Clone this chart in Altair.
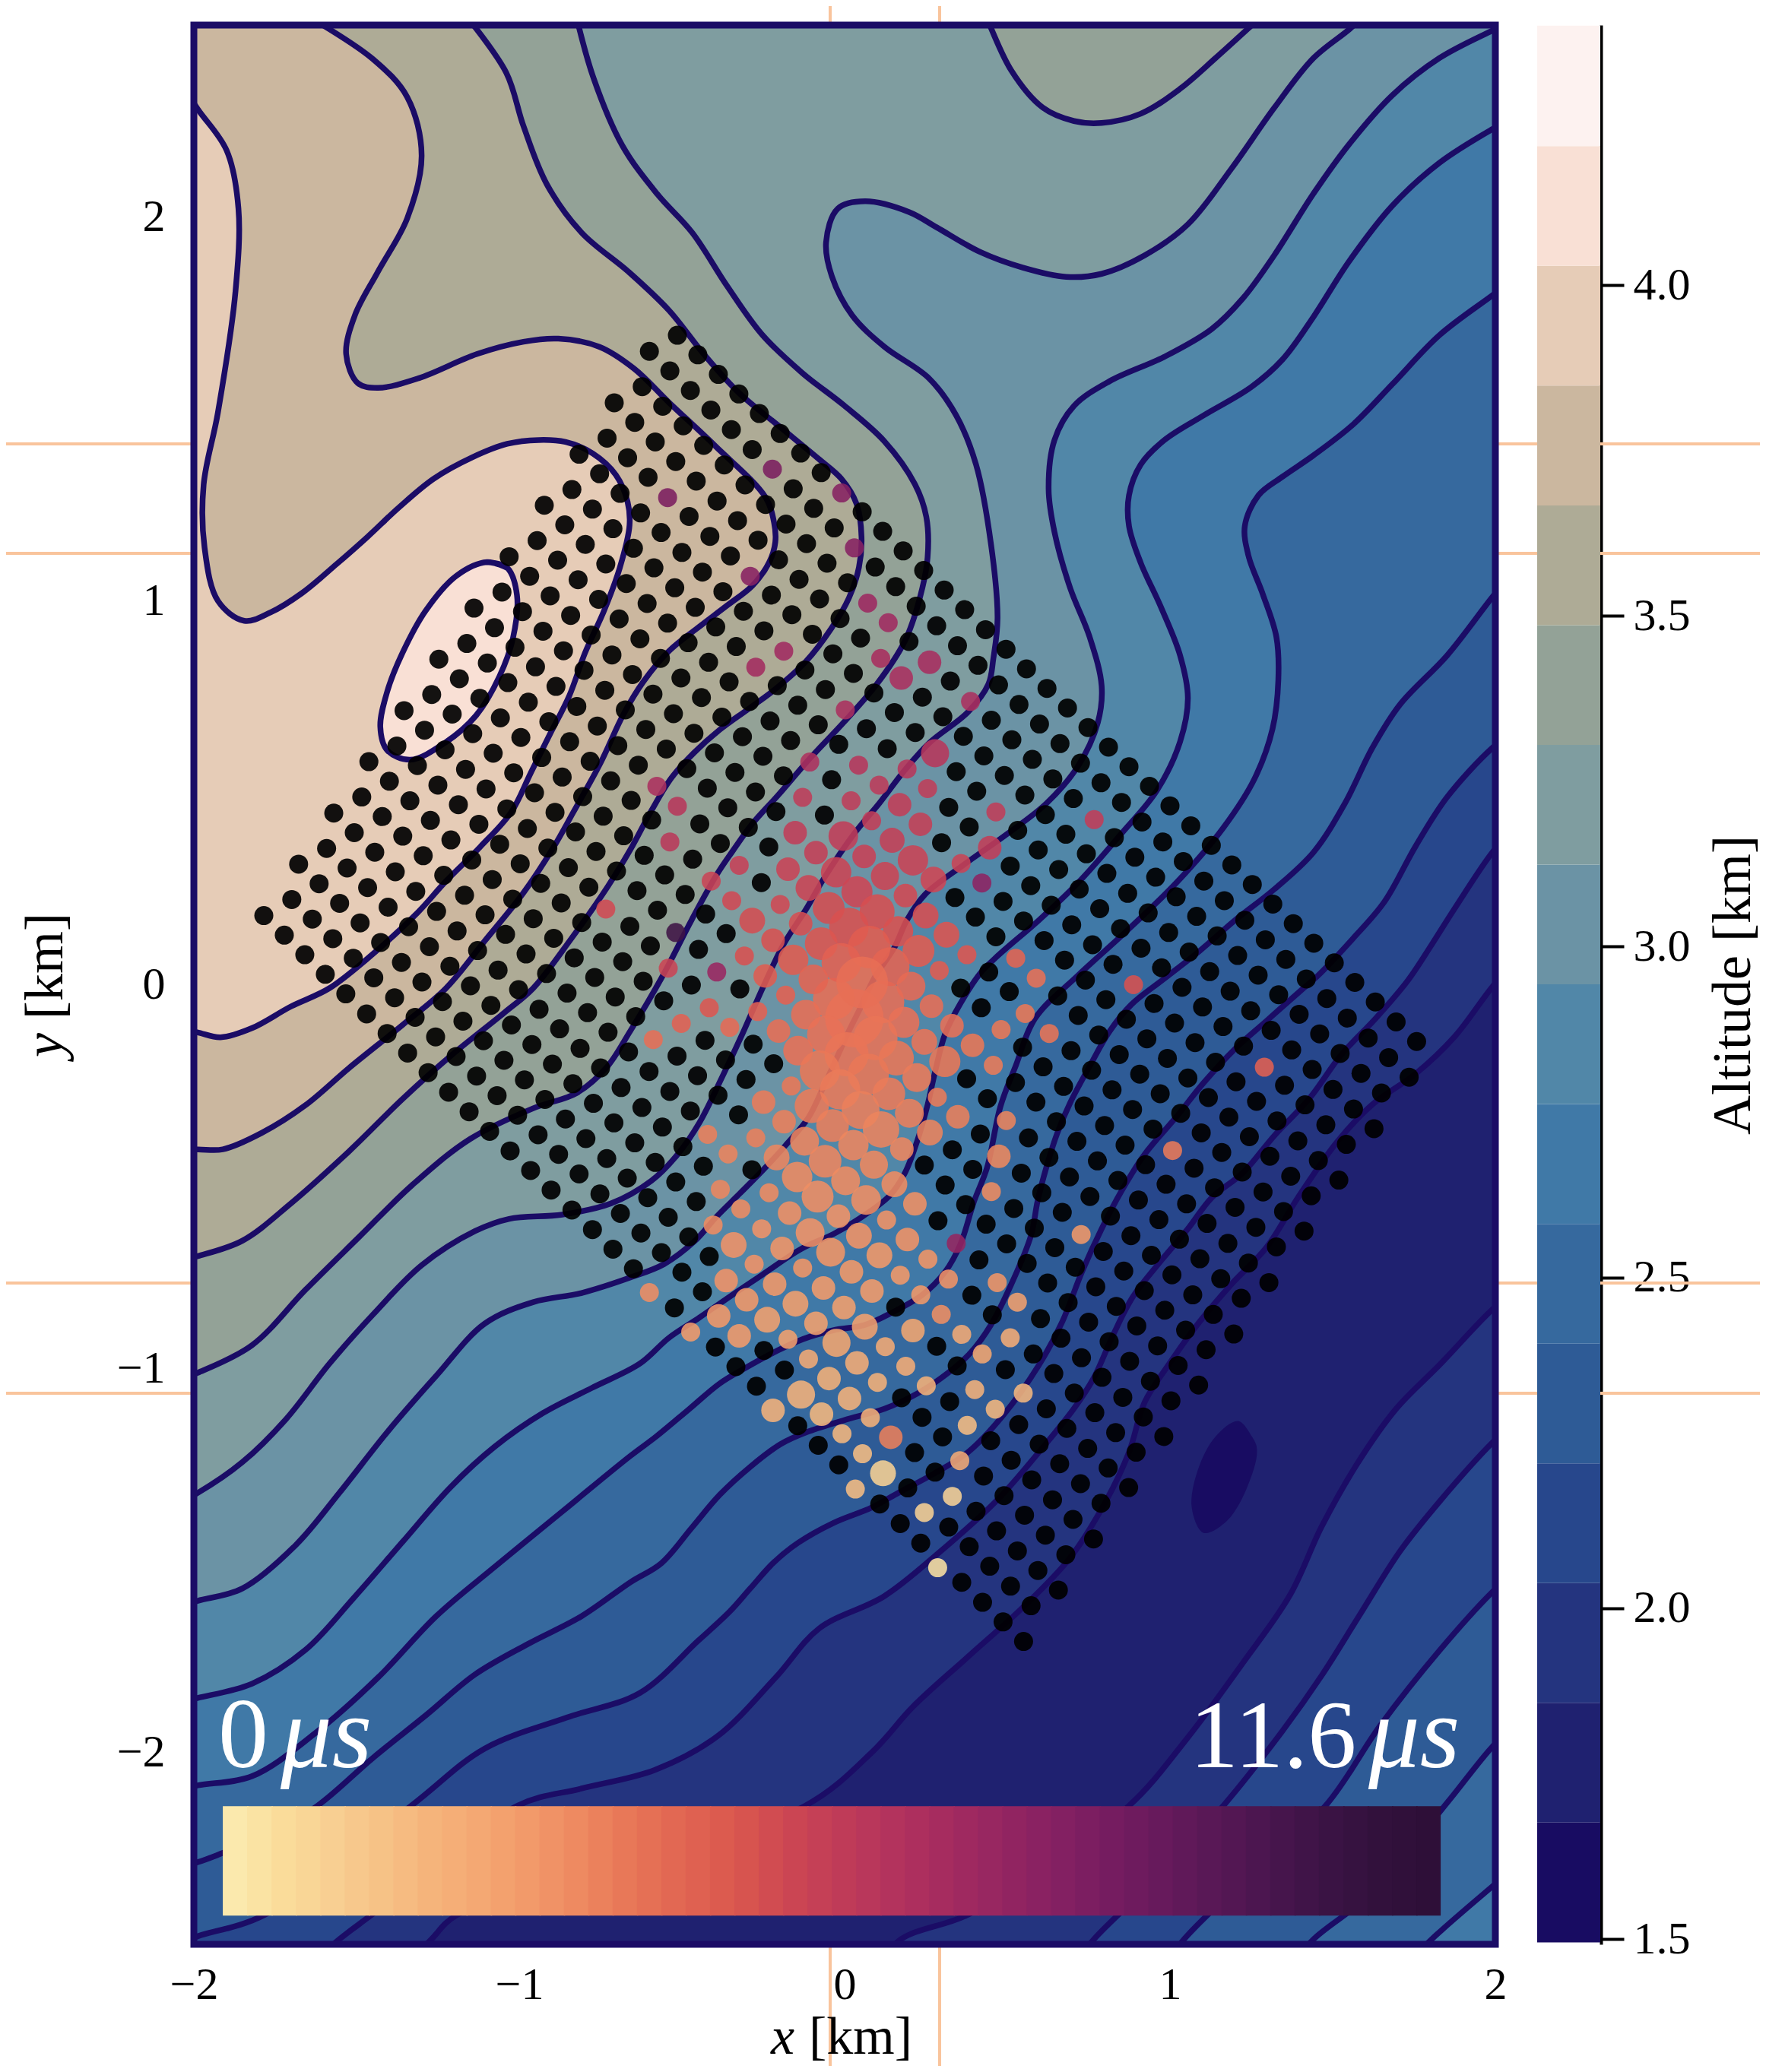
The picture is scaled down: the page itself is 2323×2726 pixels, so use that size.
import altair as alt
import pandas as pd

# ---------- colour bands (bottom to top) and altitude levels ----------
BAND_COLORS = ["#180c62", "#1f2170", "#24347f", "#27478c", "#2e5b96", "#36699e", "#4079a7", "#5187a8",
               "#6b93a5", "#7f9da0", "#93a297", "#aeab96", "#cbb79f", "#e6ccb7", "#f9e0d5", "#fdf2f0"]
LEVELS = [1.495, 1.676, 1.857, 2.038, 2.219, 2.400, 2.581, 2.762, 2.943, 3.124, 3.305, 3.486, 3.667, 3.848,
          4.029, 4.210, 4.392]
BAR_COLORS = ["#fbe9ad", "#fae3a3", "#fadc9a", "#f9d696", "#f8cf92", "#f7c88c", "#f6c286", "#f6bb81", "#f5b47b", "#f5ae77",
              "#f4a873", "#f3a16e", "#f29a6a", "#f09266", "#ee8a61", "#eb815c", "#e87858", "#e57055", "#e26853", "#df6151",
              "#dc5b4f", "#d7544f", "#d14c51", "#cb4553", "#c54056", "#bf3b58", "#b9375b", "#b3335d", "#ad2f5e", "#a62c5f",
              "#9f2960", "#982761", "#912461", "#8a2262", "#832062", "#7c1e61", "#751c60", "#6e1b5e", "#671a5c", "#601959",
              "#591856", "#531753", "#4c1650", "#46154c", "#401448", "#3a1344", "#361240", "#32113c", "#30103a", "#2e0f38"]
DOT_COLORS = ["#fbe9ad", "#fae3a5", "#fadd9e", "#f9d899", "#f8d295", "#f7cd91", "#f7c78c", "#f6c287", "#f6bd83", "#f5b87f",
              "#f5b37b", "#f5ae78", "#f4a974", "#f4a470", "#f39f6d", "#f29a6a", "#f19567", "#f09064", "#ee8a60", "#ec845d",
              "#ea7a58", "#e87256", "#e66a54", "#e36252", "#e05c50", "#dd5650", "#d95250", "#d44d51", "#cf4853", "#ca4355",
              "#c44057", "#be3c59", "#b8375b", "#b1335d", "#aa2f5e", "#a32b60", "#9c2861", "#952661", "#8d2362", "#852162",
              "#7c1e60", "#741c5e", "#6b1a5c", "#621959", "#591755", "#501651", "#47154b", "#3e1345", "#36113f", "#2e0f38"]
T_MAX = 11.6

# ---------- contour lines, km ----------
C2 = [(-1.35,-2.56),(-1.27,-2.487),(-1.194,-2.425),(-0.7,-2.3),(-0.121,-2.139),(0.086,-1.998),(0.210,-1.881),(0.379,-1.751),
      (0.548,-1.622),(0.693,-1.493),(0.802,-1.347),(0.874,-1.218),(0.922,-1.088),(0.995,-0.991),(1.091,-0.878),(1.188,-0.781),
      (1.297,-0.684),(1.393,-0.555),(1.514,-0.409),(1.622,-0.312),(1.755,-0.232),(1.876,-0.134),(1.991,-0.005),(2.06,0.06)][::-1]
C3 = [(2.06,0.41),(1.991,0.345),(1.876,0.200),(1.804,0.104),(1.731,0.011),(1.634,-0.086),(1.526,-0.183),(1.429,-0.296),(1.321,-0.393),
      (1.224,-0.490),(1.128,-0.555),(1.055,-0.636),(0.959,-0.733),(0.886,-0.813),(0.826,-0.911),(0.766,-1.024),(0.705,-1.104),
      (0.597,-1.218),(0.464,-1.347),(0.295,-1.476),(0.122,-1.593),(-0.078,-1.677),(-0.212,-1.805),(-0.391,-1.958),(-0.584,-2.046),
      (-0.808,-2.094),(-1.005,-2.139),(-1.453,-2.423),(-1.553,-2.487),(-1.65,-2.56)]
C4 = [(2.06,0.66),(1.991,0.617),(1.852,0.489),(1.755,0.361),(1.659,0.216),(1.562,0.12),(1.454,0.023),(1.405,-0.013),(1.297,-0.094),
      (1.200,-0.167),(1.103,-0.256),(1.019,-0.345),(0.922,-0.442),(0.850,-0.539),(0.790,-0.636),(0.729,-0.749),(0.669,-0.878),
      (0.597,-0.991),(0.488,-1.121),(0.379,-1.218),(0.270,-1.276),(0.169,-1.322),(0.083,-1.362),(-0.034,-1.402),(-0.143,-1.454),
      (-0.220,-1.507),(-0.290,-1.573),(-0.353,-1.633),(-0.450,-1.709),(-0.629,-1.845),(-0.853,-1.909),(-1.106,-1.990),(-1.332,-2.139),
      (-1.782,-2.423),(-1.988,-2.479),(-2.05,-2.50)]
C5 = [(2.06,1.08),(1.991,1.010),(1.852,0.858),(1.707,0.730),(1.622,0.617),(1.538,0.473),(1.441,0.345),(1.321,0.249),(1.200,0.168),
      (1.091,0.088),(0.983,0.016),(0.881,-0.052),(0.814,-0.122),(0.754,-0.211),(0.693,-0.308),(0.653,-0.388),(0.620,-0.476),
      (0.593,-0.564),(0.573,-0.653),(0.512,-0.781),(0.449,-0.887),(0.387,-0.959),(0.317,-1.012),(0.224,-1.065),(0.122,-1.105),
      (0.013,-1.131),(-0.111,-1.164),(-0.197,-1.197),(-0.290,-1.256),(-0.384,-1.329),(-0.470,-1.415),(-0.563,-1.507),(-0.659,-1.557),
      (-0.808,-1.645),(-0.972,-1.717),(-1.136,-1.797),(-1.285,-1.902),(-1.449,-2.014),(-1.620,-2.139),(-1.77,-2.215),(-1.911,-2.262),
      (-1.988,-2.286),(-2.05,-2.30)]
C6 = [(2.06,1.84),(1.991,1.796),(1.828,1.692),(1.683,1.564),(1.562,1.459),(1.441,1.379),(1.345,1.323),(1.272,1.275),(1.230,1.195),
      (1.242,1.115),(1.285,1.018),(1.327,0.906),(1.333,0.794),(1.315,0.666),(1.260,0.537),(1.164,0.409),(1.019,0.265),(0.862,0.136),
      (0.717,0.024),(0.586,-0.087),(0.526,-0.211),(0.479,-0.317),(0.438,-0.476),(0.398,-0.564),(0.356,-0.676),(0.309,-0.748),
      (0.239,-0.808),(0.146,-0.854),(0.060,-0.887),(-0.033,-0.900),(-0.127,-0.923),(-0.220,-0.959),(-0.306,-0.999),(-0.384,-1.039),
      (-0.477,-1.105),(-0.579,-1.177),(-0.659,-1.228),(-0.867,-1.372),(-1.076,-1.517),(-1.255,-1.645),(-1.434,-1.805),(-1.627,-1.950),
      (-1.821,-2.062),(-1.988,-2.086),(-2.05,-2.10)]
C7 = [(2.06,2.26),(1.991,2.229),(1.828,2.141),(1.683,2.029),(1.550,1.884),(1.441,1.740),(1.345,1.628),(1.248,1.556),(1.103,1.483),
      (0.983,1.419),(0.910,1.355),(0.874,1.275),(0.874,1.195),(0.910,1.099),(0.971,0.986),(1.031,0.858),(1.055,0.746),(1.031,0.633),
      (0.959,0.505),(0.850,0.393),(0.717,0.265),(0.597,0.168),(0.473,0.077),(0.418,0.031),(0.356,-0.049),(0.309,-0.128),(0.278,-0.227),
      (0.255,-0.313),(0.224,-0.405),(0.185,-0.491),(0.138,-0.550),(0.044,-0.610),(-0.033,-0.649),(-0.135,-0.689),(-0.252,-0.755),
      (-0.345,-0.808),(-0.446,-0.867),(-0.540,-0.920),(-0.629,-0.987),(-0.778,-1.051),(-0.927,-1.116),(-1.076,-1.204),(-1.210,-1.308),
      (-1.359,-1.452),(-1.508,-1.597),(-1.657,-1.733),(-1.821,-1.821),(-1.988,-1.858),(-2.05,-1.87)]
C8 = [(2.05,2.51),(1.991,2.486),(1.828,2.414),(1.683,2.317),(1.550,2.189),(1.441,2.061),(1.321,1.901),(1.224,1.788),(1.128,1.708),
      (0.983,1.636),(0.814,1.572),(0.705,1.508),(0.645,1.419),(0.627,1.291),(0.645,1.179),(0.693,1.034),(0.753,0.906),(0.790,0.778),
      (0.778,0.682),(0.717,0.569),(0.621,0.473),(0.500,0.393),(0.367,0.313),(0.247,0.235),(0.192,0.169),(0.153,0.097),(0.091,0.017),
      (0.044,-0.068),(0.013,-0.121),(-0.026,-0.194),(-0.065,-0.266),(-0.111,-0.346),(-0.181,-0.418),(-0.252,-0.484),(-0.322,-0.544),
      (-0.392,-0.603),(-0.462,-0.669),(-0.555,-0.728),(-0.659,-0.763),(-0.808,-0.803),(-0.957,-0.827),(-1.106,-0.883),(-1.255,-1.019),
      (-1.404,-1.164),(-1.553,-1.324),(-1.687,-1.460),(-1.851,-1.573),(-1.988,-1.605),(-2.05,-1.62)]
C9 = [(1.60,2.54),(1.568,2.502),(1.441,2.414),(1.321,2.285),(1.188,2.125),(1.055,1.981),(0.922,1.900),(0.790,1.852),(0.681,1.844),
      (0.548,1.868),(0.416,1.909),(0.283,1.973),(0.198,2.013),(0.063,2.041),(-0.021,2.022),(-0.057,1.934),(-0.039,1.845),(0.023,1.744),
      (0.122,1.662),(0.259,1.580),(0.343,1.483),(0.404,1.355),(0.450,1.147),(0.470,0.954),(0.457,0.849),(0.442,0.783),(0.379,0.710),
      (0.262,0.631),(0.185,0.559),(0.107,0.473),(0.029,0.393),(-0.065,0.275),(-0.119,0.196),(-0.189,0.103),(-0.252,-0.009),(-0.314,-0.128),
      (-0.376,-0.240),(-0.446,-0.359),(-0.516,-0.445),(-0.594,-0.511),(-0.718,-0.570),(-0.868,-0.599),(-1.031,-0.610),(-1.136,-0.642),
      (-1.300,-0.731),(-1.449,-0.859),(-1.583,-0.987),(-1.717,-1.132),(-1.851,-1.244),(-1.988,-1.324),(-2.05,-1.35)]
C10 = [(-0.826,2.527),(-0.772,2.363),(-0.683,2.186),(-0.576,2.060),(-0.468,1.959),(-0.361,1.820),(-0.254,1.694),(-0.129,1.593),
       (-0.003,1.510),(0.122,1.416),(0.216,1.304),(0.251,1.219),(0.255,1.113),(0.231,1.007),(0.185,0.895),(0.099,0.783),(-0.002,0.684),
       (-0.104,0.592),(-0.205,0.493),(-0.283,0.420),(-0.345,0.347),(-0.392,0.288),(-0.470,0.169),(-0.563,0.017),(-0.659,-0.121),
       (-0.733,-0.217),(-0.823,-0.282),(-0.957,-0.322),(-1.151,-0.402),(-1.329,-0.522),(-1.493,-0.658),(-1.657,-0.795),(-1.821,-0.939),
       (-1.988,-1.011),(-2.05,-1.03)]
C10_TOP = [(0.434,2.526),(0.512,2.382),(0.609,2.285),(0.705,2.250),(0.790,2.245),(0.910,2.269),(1.031,2.334),(1.140,2.414),(1.248,2.497),(1.285,2.526)]
C11 = [(-1.166,2.527),(-1.040,2.376),(-0.987,2.237),(-0.915,2.085),(-0.808,1.959),(-0.665,1.858),(-0.540,1.757),(-0.433,1.643),
       (-0.325,1.542),(-0.200,1.454),(-0.080,1.370),(-0.010,1.318),(0.037,1.252),(0.052,1.166),(0.044,1.087),(0.013,1.007),(-0.041,0.928),
       (-0.119,0.842),(-0.213,0.770),(-0.298,0.717),(-0.384,0.664),(-0.462,0.605),(-0.532,0.539),(-0.594,0.453),(-0.657,0.354),(-0.727,0.257),
       (-0.84,0.12),(-0.957,-0.009),(-1.046,-0.073),(-1.210,-0.185),(-1.359,-0.298),(-1.523,-0.434),(-1.702,-0.570),(-1.851,-0.667),
       (-1.988,-0.707),(-2.05,-0.72)]
C12 = [(-1.657,2.527),(-1.452,2.413),(-1.344,2.312),(-1.300,2.161),(-1.344,1.997),(-1.434,1.858),(-1.505,1.744),(-1.532,1.643),
       (-1.496,1.567),(-1.434,1.555),(-1.309,1.580),(-1.130,1.643),(-0.987,1.675),(-0.880,1.683),(-0.754,1.662),(-0.647,1.605),(-0.540,1.517),
       (-0.397,1.403),(-0.244,1.271),(-0.217,1.205),(-0.213,1.153),(-0.232,1.100),(-0.283,1.040),(-0.361,0.988),(-0.454,0.928),(-0.540,0.869),
       (-0.618,0.790),(-0.680,0.704),(-0.75,0.578),(-0.834,0.449),(-0.894,0.359),(-0.989,0.237),(-1.105,0.115),(-1.225,-0.009),(-1.359,-0.105),
       (-1.523,-0.217),(-1.657,-0.314),(-1.791,-0.386),(-1.911,-0.429),(-1.988,-0.429),(-2.05,-0.43)]
C13 = [(-2.05,-0.115),(-1.99,-0.124),(-1.918,-0.137),(-1.821,-0.113),(-1.702,-0.057),(-1.583,-0.009),(-1.45,0.08),(-1.311,0.189),
       (-1.227,0.268),(-1.120,0.359),(-1.025,0.449),(-0.965,0.551),(-0.906,0.652),(-0.846,0.753),(-0.798,0.864),(-0.739,0.975),(-0.691,1.086),
       (-0.661,1.197),(-0.667,1.258),(-0.703,1.328),(-0.774,1.384),(-0.858,1.414),(-0.941,1.419),(-1.037,1.409),(-1.144,1.374),(-1.263,1.318),
       (-1.370,1.243),(-1.466,1.167),(-1.561,1.096),(-1.668,1.020),(-1.764,0.970),(-1.845,0.948),(-1.926,1.0),(-1.967,1.138),(-1.970,1.302),
       (-1.926,1.491),(-1.872,1.807),(-1.863,2.022),(-1.899,2.173),(-1.988,2.281),(-2.05,2.36)]
C14 = [(-1.099,1.101),(-1.037,1.086),(-1.007,1.015),(-1.019,0.904),(-1.061,0.803),(-1.132,0.702),(-1.227,0.631),(-1.335,0.586),(-1.406,0.611),
       (-1.427,0.672),(-1.406,0.763),(-1.359,0.864),(-1.287,0.975),(-1.192,1.066),(-1.099,1.101),(-1.037,1.086)]
C2_R = [(0.10,-2.56),(0.173,-2.487),(0.381,-2.422),(0.621,-2.285),(0.874,-2.139),(1.055,-1.961),(1.224,-1.767),(1.369,-1.590),(1.466,-1.412),
        (1.574,-1.250),(1.695,-1.105),(1.828,-0.991),(1.991,-0.846),(2.06,-0.80)]
C3_R = [(0.70,-2.56),(0.766,-2.487),(0.971,-2.317),(1.164,-2.139),(1.345,-1.945),(1.466,-1.800),(1.586,-1.638),(1.707,-1.476),(1.828,-1.347),
        (1.991,-1.193),(2.06,-1.14)]
C4_R = [(0.98,-2.56),(1.043,-2.487),(1.248,-2.317),(1.478,-2.139),(1.647,-1.929),(1.828,-1.735),(1.991,-1.582),(2.06,-1.53)]
C5_R = [(1.37,-2.56),(1.441,-2.487),(1.622,-2.365),(1.852,-2.131),(1.991,-1.985),(2.06,-1.93)]
C6_R = [(1.72,-2.56),(1.804,-2.487),(1.991,-2.349),(2.06,-2.30)]
C1_BLOB = [(1.212,-1.137),(1.266,-1.202),(1.242,-1.299),(1.176,-1.396),(1.103,-1.428),(1.067,-1.363),(1.085,-1.266),(1.140,-1.177),(1.212,-1.137),(1.266,-1.202)]

# ---------- sensor positions, one row of the array per pair of lists ----------
RX = [
[-.514,-.451,-.388,-.325,-.262,-.198,-.135,-.072,-.009,.054,.117,.180,.243,.306,.369,.433,.496,.559,.622,.685,.748,.811,.874,.937,1.000,1.064,1.127,1.190,1.253,1.316,1.379,1.442,1.505,1.568,1.631,1.695,1.758],
[-.600,-.537,-.474,-.411,-.348,-.284,-.221,-.158,-.095,-.032,.031,.094,.157,.220,.283,.347,.410,.473,.536,.599,.662,.725,.788,.851,.914,.978,1.041,1.104,1.167,1.230,1.293,1.356,1.419,1.482,1.545,1.609,1.672,1.735],
[-.622,-.559,-.496,-.433,-.370,-.306,-.243,-.180,-.117,-.054,.009,.072,.135,.198,.261,.325,.388,.451,.514,.577,.640,.703,.766,.829,.892,.956,1.019,1.082,1.145,1.208,1.271,1.334,1.397,1.460,1.523,1.587,1.650],
[-.708,-.645,-.582,-.519,-.456,-.392,-.329,-.266,-.203,-.140,-.077,-.014,.049,.112,.175,.239,.302,.365,.428,.491,.554,.617,.680,.743,.806,.870,.933,.996,1.059,1.122,1.185,1.248,1.311,1.374,1.437,1.501,1.564,1.627],
[-.730,-.667,-.604,-.541,-.478,-.414,-.351,-.288,-.225,-.162,-.099,-.036,.027,.090,.153,.217,.280,.343,.406,.469,.532,.595,.658,.721,.784,.848,.911,.974,1.037,1.100,1.163,1.226,1.289,1.352,1.415,1.479,1.542],
[-.816,-.753,-.690,-.627,-.564,-.500,-.437,-.374,-.311,-.248,-.185,-.122,-.059,.004,.067,.131,.194,.257,.320,.383,.446,.509,.572,.635,.698,.762,.825,.888,.951,1.014,1.077,1.140,1.203,1.266,1.329,1.393,1.456,1.519],
[-.838,-.775,-.712,-.649,-.586,-.522,-.459,-.396,-.333,-.270,-.207,-.144,-.081,-.018,.045,.109,.172,.235,.298,.361,.424,.487,.550,.613,.676,.740,.803,.866,.929,.992,1.055,1.118,1.181,1.244,1.307,1.371,1.434],
[-.923,-.860,-.797,-.734,-.671,-.607,-.544,-.481,-.418,-.355,-.292,-.229,-.166,-.103,-.040,.024,.087,.150,.213,.276,.339,.402,.465,.528,.591,.655,.718,.781,.844,.907,.970,1.033,1.096,1.159,1.222,1.286,1.349,1.412],
[-.945,-.882,-.819,-.756,-.693,-.629,-.566,-.503,-.440,-.377,-.314,-.251,-.188,-.125,-.062,.002,.065,.128,.191,.254,.317,.380,.443,.506,.569,.633,.696,.759,.822,.885,.948,1.011,1.074,1.137,1.200,1.264,1.327],
[-1.031,-.968,-.905,-.842,-.779,-.715,-.652,-.589,-.526,-.463,-.400,-.337,-.274,-.211,-.148,-.084,-.021,.042,.105,.168,.231,.294,.357,.420,.483,.547,.610,.673,.736,.799,.862,.925,.988,1.051,1.114,1.178,1.241,1.304],
[-1.053,-.990,-.927,-.864,-.801,-.737,-.674,-.611,-.548,-.485,-.422,-.359,-.296,-.233,-.170,-.106,-.043,.020,.083,.146,.209,.272,.335,.398,.461,.525,.588,.651,.714,.777,.840,.903,.966,1.029,1.092,1.156,1.219],
[-1.139,-1.076,-1.013,-.950,-.887,-.823,-.760,-.697,-.634,-.571,-.508,-.445,-.382,-.319,-.256,-.192,-.129,-.066,-.003,.060,.123,.186,.249,.312,.375,.439,.502,.565,.628,.691,.754,.817,.880,.943,1.006,1.070,1.133,1.196],
[-1.161,-1.098,-1.035,-.972,-.909,-.845,-.782,-.719,-.656,-.593,-.530,-.467,-.404,-.341,-.278,-.214,-.151,-.088,-.025,.038,.101,.164,.227,.290,.353,.417,.480,.543,.606,.669,.732,.795,.858,.921,.984,1.048,1.111],
[-1.247,-1.184,-1.121,-1.058,-.995,-.931,-.868,-.805,-.742,-.679,-.616,-.553,-.490,-.427,-.364,-.300,-.237,-.174,-.111,-.048,.015,.078,.141,.204,.267,.331,.394,.457,.520,.583,.646,.709,.772,.835,.898,.962,1.025,1.088],
[-1.269,-1.206,-1.143,-1.080,-1.017,-.953,-.890,-.827,-.764,-.701,-.638,-.575,-.512,-.449,-.386,-.322,-.259,-.196,-.133,-.070,-.007,.056,.119,.182,.245,.309,.372,.435,.498,.561,.624,.687,.750,.813,.876,.940,1.003],
[-1.354,-1.291,-1.228,-1.165,-1.102,-1.038,-.975,-.912,-.849,-.786,-.723,-.660,-.597,-.534,-.471,-.407,-.344,-.281,-.218,-.155,-.092,-.029,.034,.097,.160,.224,.287,.350,.413,.476,.539,.602,.665,.728,.791,.855,.918,.981],
[-1.376,-1.313,-1.250,-1.187,-1.124,-1.060,-.997,-.934,-.871,-.808,-.745,-.682,-.619,-.556,-.493,-.429,-.366,-.303,-.240,-.177,-.114,-.051,.012,.075,.138,.202,.265,.328,.391,.454,.517,.580,.643,.706,.769,.833,.896],
[-1.462,-1.399,-1.336,-1.273,-1.210,-1.146,-1.083,-1.020,-.957,-.894,-.831,-.768,-.705,-.642,-.579,-.515,-.452,-.389,-.326,-.263,-.200,-.137,-.074,-.011,.052,.116,.179,.242,.305,.368,.431,.494,.557,.620,.683,.747,.810,.873],
[-1.484,-1.421,-1.358,-1.295,-1.232,-1.168,-1.105,-1.042,-.979,-.916,-.853,-.790,-.727,-.664,-.601,-.537,-.474,-.411,-.348,-.285,-.222,-.159,-.096,-.033,.030,.094,.157,.220,.283,.346,.409,.472,.535,.598,.661,.725,.788],
[-1.570,-1.507,-1.444,-1.381,-1.318,-1.254,-1.191,-1.128,-1.065,-1.002,-.939,-.876,-.813,-.750,-.687,-.623,-.560,-.497,-.434,-.371,-.308,-.245,-.182,-.119,-.056,.008,.071,.134,.197,.260,.323,.386,.449,.512,.575,.639,.702,.765],
[-1.592,-1.529,-1.466,-1.403,-1.340,-1.276,-1.213,-1.150,-1.087,-1.024,-.961,-.898,-.835,-.772,-.709,-.645,-.582,-.519,-.456,-.393,-.330,-.267,-.204,-.141,-.078,-.014,.049,.112,.175,.238,.301,.364,.427,.490,.553,.617,.680],
[-1.678,-1.615,-1.552,-1.489,-1.426,-1.362,-1.299,-1.236,-1.173,-1.110,-1.047,-.984,-.921,-.858,-.795,-.731,-.668,-.605,-.542,-.479,-.416,-.353,-.290,-.227,-.164,-.100,-.037,.026,.089,.152,.215,.278,.341,.404,.467,.531,.594,.657],
[-1.699,-1.636,-1.573,-1.510,-1.447,-1.383,-1.320,-1.257,-1.194,-1.131,-1.068,-1.005,-.942,-.879,-.816,-.752,-.689,-.626,-.563,-.500,-.437,-.374,-.311,-.248,-.185,-.121,-.058,.005,.068,.131,.194,.257,.320,.383,.446,.510,.573],
[-1.785,-1.722,-1.659,-1.596,-1.533,-1.469,-1.406,-1.343,-1.280,-1.217,-1.154,-1.091,-1.028,-.965,-.902,-.838,-.775,-.712,-.649,-.586,-.523,-.460,-.397,-.334,-.271,-.207,-.144,-.081,-.018,.045,.108,.171,.234,.297,.360,.424,.487,.550],
]
RY = [
[1.692,1.641,1.590,1.539,1.488,1.436,1.385,1.334,1.283,1.232,1.181,1.130,1.079,1.028,.977,.925,.874,.823,.772,.721,.670,.619,.568,.517,.466,.414,.363,.312,.261,.210,.159,.108,.057,.006,-.045,-.097,-.148],
[1.650,1.599,1.548,1.497,1.446,1.394,1.343,1.292,1.241,1.190,1.139,1.088,1.037,.986,.935,.883,.832,.781,.730,.679,.628,.577,.526,.475,.424,.372,.321,.270,.219,.168,.117,.066,.015,-.036,-.087,-.139,-.190,-.241],
[1.558,1.507,1.456,1.405,1.354,1.302,1.251,1.200,1.149,1.098,1.047,.996,.945,.894,.843,.791,.740,.689,.638,.587,.536,.485,.434,.383,.332,.280,.229,.178,.127,.076,.025,-.026,-.077,-.128,-.179,-.231,-.282],
[1.516,1.465,1.414,1.363,1.312,1.260,1.209,1.158,1.107,1.056,1.005,.954,.903,.852,.801,.749,.698,.647,.596,.545,.494,.443,.392,.341,.290,.238,.187,.136,.085,.034,-.017,-.068,-.119,-.170,-.221,-.273,-.324,-.375],
[1.424,1.373,1.322,1.271,1.220,1.168,1.117,1.066,1.015,.964,.913,.862,.811,.760,.709,.657,.606,.555,.504,.453,.402,.351,.300,.249,.198,.146,.095,.044,-.007,-.058,-.109,-.160,-.211,-.262,-.313,-.365,-.416],
[1.382,1.331,1.280,1.229,1.178,1.126,1.075,1.024,.973,.922,.871,.820,.769,.718,.667,.615,.564,.513,.462,.411,.360,.309,.258,.207,.156,.104,.053,.002,-.049,-.100,-.151,-.202,-.253,-.304,-.355,-.407,-.458,-.509],
[1.290,1.239,1.188,1.137,1.086,1.034,.983,.932,.881,.830,.779,.728,.677,.626,.575,.523,.472,.421,.370,.319,.268,.217,.166,.115,.064,.012,-.039,-.090,-.141,-.192,-.243,-.294,-.345,-.396,-.447,-.499,-.550],
[1.249,1.198,1.147,1.096,1.045,.993,.942,.891,.840,.789,.738,.687,.636,.585,.534,.482,.431,.380,.329,.278,.227,.176,.125,.074,.023,-.029,-.080,-.131,-.182,-.233,-.284,-.335,-.386,-.437,-.488,-.540,-.591,-.642],
[1.157,1.106,1.055,1.004,.953,.901,.850,.799,.748,.697,.646,.595,.544,.493,.442,.390,.339,.288,.237,.186,.135,.084,.033,-.018,-.069,-.121,-.172,-.223,-.274,-.325,-.376,-.427,-.478,-.529,-.580,-.632,-.683],
[1.115,1.064,1.013,.962,.911,.859,.808,.757,.706,.655,.604,.553,.502,.451,.400,.348,.297,.246,.195,.144,.093,.042,-.009,-.060,-.111,-.163,-.214,-.265,-.316,-.367,-.418,-.469,-.520,-.571,-.622,-.674,-.725,-.776],
[1.023,.972,.921,.870,.819,.767,.716,.665,.614,.563,.512,.461,.410,.359,.308,.256,.205,.154,.103,.052,.001,-.050,-.101,-.152,-.203,-.255,-.306,-.357,-.408,-.459,-.510,-.561,-.612,-.663,-.714,-.766,-.817],
[.981,.930,.879,.828,.777,.725,.674,.623,.572,.521,.470,.419,.368,.317,.266,.214,.163,.112,.061,.010,-.041,-.092,-.143,-.194,-.245,-.297,-.348,-.399,-.450,-.501,-.552,-.603,-.654,-.705,-.756,-.808,-.859,-.910],
[.889,.838,.787,.736,.685,.633,.582,.531,.480,.429,.378,.327,.276,.225,.174,.122,.071,.020,-.031,-.082,-.133,-.184,-.235,-.286,-.337,-.389,-.440,-.491,-.542,-.593,-.644,-.695,-.746,-.797,-.848,-.900,-.951],
[.848,.797,.746,.695,.644,.592,.541,.490,.439,.388,.337,.286,.235,.184,.133,.081,.030,-.021,-.072,-.123,-.174,-.225,-.276,-.327,-.378,-.430,-.481,-.532,-.583,-.634,-.685,-.736,-.787,-.838,-.889,-.941,-.992,-1.043],
[.756,.705,.654,.603,.552,.500,.449,.398,.347,.296,.245,.194,.143,.092,.041,-.011,-.062,-.113,-.164,-.215,-.266,-.317,-.368,-.419,-.470,-.522,-.573,-.624,-.675,-.726,-.777,-.828,-.879,-.930,-.981,-1.033,-1.084],
[.714,.663,.612,.561,.510,.458,.407,.356,.305,.254,.203,.152,.101,.050,-.001,-.053,-.104,-.155,-.206,-.257,-.308,-.359,-.410,-.461,-.512,-.564,-.615,-.666,-.717,-.768,-.819,-.870,-.921,-.972,-1.023,-1.075,-1.126,-1.177],
[.622,.571,.520,.469,.418,.366,.315,.264,.213,.162,.111,.060,.009,-.042,-.093,-.145,-.196,-.247,-.298,-.349,-.400,-.451,-.502,-.553,-.604,-.656,-.707,-.758,-.809,-.860,-.911,-.962,-1.013,-1.064,-1.115,-1.167,-1.218],
[.581,.530,.479,.428,.377,.325,.274,.223,.172,.121,.070,.019,-.032,-.083,-.134,-.186,-.237,-.288,-.339,-.390,-.441,-.492,-.543,-.594,-.645,-.697,-.748,-.799,-.850,-.901,-.952,-1.003,-1.054,-1.105,-1.156,-1.208,-1.259,-1.310],
[.489,.438,.387,.336,.285,.233,.182,.131,.080,.029,-.022,-.073,-.124,-.175,-.226,-.278,-.329,-.380,-.431,-.482,-.533,-.584,-.635,-.686,-.737,-.789,-.840,-.891,-.942,-.993,-1.044,-1.095,-1.146,-1.197,-1.248,-1.300,-1.351],
[.447,.396,.345,.294,.243,.191,.140,.089,.038,-.013,-.064,-.115,-.166,-.217,-.268,-.320,-.371,-.422,-.473,-.524,-.575,-.626,-.677,-.728,-.779,-.831,-.882,-.933,-.984,-1.035,-1.086,-1.137,-1.188,-1.239,-1.290,-1.342,-1.393,-1.444],
[.355,.304,.253,.202,.151,.099,.048,-.003,-.054,-.105,-.156,-.207,-.258,-.309,-.360,-.412,-.463,-.514,-.565,-.616,-.667,-.718,-.769,-.820,-.871,-.923,-.974,-1.025,-1.076,-1.127,-1.178,-1.229,-1.280,-1.331,-1.382,-1.434,-1.485],
[.314,.263,.212,.161,.110,.058,.007,-.044,-.095,-.146,-.197,-.248,-.299,-.350,-.401,-.453,-.504,-.555,-.606,-.657,-.708,-.759,-.810,-.861,-.912,-.964,-1.015,-1.066,-1.117,-1.168,-1.219,-1.270,-1.321,-1.372,-1.423,-1.475,-1.526,-1.577],
[.222,.171,.120,.069,.018,-.034,-.085,-.136,-.187,-.238,-.289,-.340,-.391,-.442,-.493,-.545,-.596,-.647,-.698,-.749,-.800,-.851,-.902,-.953,-1.004,-1.056,-1.107,-1.158,-1.209,-1.260,-1.311,-1.362,-1.413,-1.464,-1.515,-1.567,-1.618],
[.180,.129,.078,.027,-.024,-.076,-.127,-.178,-.229,-.280,-.331,-.382,-.433,-.484,-.535,-.587,-.638,-.689,-.740,-.791,-.842,-.893,-.944,-.995,-1.046,-1.098,-1.149,-1.200,-1.251,-1.302,-1.353,-1.404,-1.455,-1.506,-1.557,-1.609,-1.660,-1.711],
]

# ---------- sensors that fired: (x km, y km, arrival time us, amplitude) ----------
FIRED_LATE = [(-.222,1.343,9.5,25),(-.544,1.269,9.5,25),(-.009,1.281,9.2,25),(.030,1.138,9.2,25),(-.290,1.064,9.2,25),(.071,.994,8.5,25),
 (.134,.943,8.4,25),(-.187,.869,8.4,25),(-.273,.827,8.3,25),(.111,.850,8.1,25),(.261,.840,8.1,31),(.174,.799,8.0,31),(.387,.738,8.0,25),
 (.002,.716,8.0,25),(-.107,.580,7.9,25),(-.577,.517,8.0,25),(-.514,.465,7.6,25),(.043,.572,7.6,25),(.192,.562,7.6,25),(.278,.603,7.6,37),
 (.106,.520,7.4,25),(.255,.511,7.3,25),(-.129,.488,7.3,25),(.020,.479,7.3,25),(.169,.469,7.2,31),(.083,.427,7.2,25),(.233,.418,7.1,31),
 (-.152,.396,7.2,31),(-.004,.387,7.2,39),(.146,.376,7.1,33),(-.537,.372,7.5,25),(.465,.450,7.3,25),(.767,.430,7.2,25),(.888,0.0,6.2,25)]
FIRED_UPPER = [(.446,.357,7.2,31),(-.088,.344,7.1,31),(.060,.334,7.0,31),(.210,.324,6.9,40),(-.324,.311,7.0,25),(-.174,.301,6.9,31),
 (.358,.316,6.9,25),(-.026,.293,6.8,40),(.124,.283,6.8,37),(-.410,.270,6.9,25),(-.111,.252,6.8,34),(.038,.242,6.7,41),(.273,.274,6.7,34),
 (.187,.232,6.6,31),(-.347,.219,6.6,25),(-.198,.209,6.6,25),(-.049,.200,6.4,42),(.100,.190,6.3,46),(.249,.180,6.3,34),(-.284,.167,6.4,34),
 (-.135,.159,6.3,31),(.013,.149,6.2,52),(.164,.139,6.2,40),(.313,.130,6.0,34),(-.220,.116,6.2,31),(-.072,.107,6.0,43),(.076,.098,5.7,56),
 (.227,.088,5.7,42),(-.308,.075,6.2,25),(-.158,.065,5.7,40),(.376,.078,5.9,25),(-.010,.057,5.5,52),(.140,.047,5.4,51),(-.542,.043,6.8,25),
 (-.393,.033,8.6,25),(.291,.037,5.7,25),(-.244,.023,5.7,31),(-.096,.014,5.4,39),(.054,.006,5.1,68),(.204,-.004,5.2,38),(.526,.069,5.4,25),
 (-.519,.136,11.1,25),(.422,.265,9.0,25),(-.734,.197,6.6,25),(.589,.017,5.0,25)]
FIRED_MIDDLE = [(-.181,-.027,5.5,25),(-.033,-.037,5.1,55),(.118,-.045,5.1,56),(.267,-.056,5.1,31),(-.416,-.060,5.9,25),(-.267,-.070,5.5,25),
 (-.119,-.078,5.1,39),(.030,-.087,5.0,77),(.182,-.098,5.0,41),(-.502,-.101,5.5,25),(-.353,-.111,5.2,25),(-.203,-.121,5.1,31),(-.057,-.130,5.0,50),
 (.095,-.139,4.9,58),(.330,-.107,5.0,31),(.245,-.149,4.9,34),(.481,-.117,4.8,25),(.555,-.075,4.8,25),(-.588,-.143,5.1,25),(-.143,-.172,5.0,39),
 (.006,-.181,4.9,58),(.159,-.191,4.8,46),(.393,-.158,4.8,31),(.308,-.200,4.8,41),(.457,-.210,4.7,25),(-.076,-.224,4.8,53),(.073,-.233,4.8,54),
 (.222,-.242,4.7,38),(-.164,-.264,4.8,25),(-.014,-.273,4.7,53),(.136,-.284,4.7,43),(.285,-.293,4.7,25),(-.249,-.306,4.7,31),(-.101,-.316,4.7,45),
 (.049,-.326,4.6,50),(.199,-.335,4.6,38),(.348,-.344,4.6,31),(.497,-.354,4.5,25),(-.186,-.357,4.6,31),(-.037,-.367,4.6,43),(.112,-.377,4.5,48),
 (.262,-.385,4.5,34),(-.421,-.390,4.6,25),(-.273,-.399,4.6,25),(-.123,-.408,4.4,38),(.027,-.418,4.4,40),(.176,-.428,4.4,31),(-.209,-.450,4.4,34),
 (-.060,-.460,4.4,43),(.090,-.469,4.3,37),(.474,-.447,4.3,31),(-.358,-.441,4.5,25),(-.146,-.501,4.2,40),(.003,-.511,4.2,38),(.153,-.520,4.2,34),
 (-.382,-.533,4.4,25),(-.232,-.542,4.2,25),(-.083,-.552,4.1,42),(.066,-.561,4.1,39),(.451,-.539,4.2,25),(.216,-.571,4.0,31),(-.319,-.584,4.2,25),
 (-.169,-.595,4.0,31),(-.019,-.603,3.9,31),(.129,-.613,3.9,25),(.629,-.127,4.9,25),(1.290,-.215,5.5,25),(1.008,-.432,4.7,25)]
FIRED_LOWER = [(-.404,-.626,4.2,25),(-.255,-.636,3.9,25),(-.106,-.646,3.9,38),(-.341,-.678,3.9,34),(.044,-.654,3.9,34),(.193,-.664,3.9,31),
 (-.192,-.687,3.8,31),(-.043,-.697,3.8,38),(.107,-.705,3.6,34),(.343,-.674,8.8,25),(.256,-.715,3.8,25),(-.278,-.728,3.9,25),(-.129,-.738,3.8,25),
 (.021,-.748,3.6,31),(.171,-.757,3.6,25),(-.364,-.771,3.9,31),(-.215,-.780,3.6,31),(-.065,-.790,3.5,31),(.084,-.798,3.5,31),(.319,-.767,3.9,25),
 (.469,-.776,3.8,25),(-.600,-.802,4.1,25),(-.301,-.821,3.6,31),(-.151,-.831,3.3,34),(-.002,-.841,3.3,31),(.234,-.808,3.6,25),(.531,-.827,3.2,25),
 (-.387,-.863,3.6,31),(-.238,-.873,3.2,34),(-.088,-.882,3.2,31),(.062,-.891,3.2,34),(.297,-.859,4.1,25),(.210,-.901,3.0,31),(.360,-.911,2.8,25),
 (.509,-.920,2.7,25),(-.473,-.905,3.5,25),(-.324,-.915,3.5,31),(-.174,-.924,3.2,25),(-.025,-.933,3.0,37),(.125,-.943,2.8,25),(.423,-.962,3.0,25),
 (-.111,-.975,2.8,25),(.038,-.985,2.7,31),(.188,-.994,2.7,25),(-.048,-1.026,2.5,31),(.101,-1.036,2.5,25),(.251,-1.045,2.5,25),(.400,-1.055,2.4,25),
 (.549,-1.064,2.2,25),(-.134,-1.068,2.4,37),(.015,-1.078,2.4,31),(.463,-1.106,2.2,25),(-.220,-1.109,2.4,31),(-.071,-1.119,2.2,31),(.079,-1.128,2.5,25),
 (.377,-1.148,1.9,25),(-.008,-1.170,2.2,25),(.142,-1.179,4.6,31),(.055,-1.222,1.9,25),(.354,-1.240,2.8,25),(.118,-1.273,1.0,34),(.033,-1.314,1.9,25),
 (.331,-1.333,.9,25),(.245,-1.375,1.0,25),(.286,-1.519,.3,25),(.727,-.651,3.6,25)]

# ---------- assemble tables ----------
OUT_TL = [(-2.2, -2.7), (-2.2, 2.7), (2.2, 2.7)]
OUT_BR = [(2.2, -2.7)]
REGIONS = [
    ("c2", C2 + OUT_TL, 2), ("c2r", C2_R + OUT_BR, 2),
    ("c3", C3 + OUT_TL, 3), ("c3r", C3_R + OUT_BR, 3),
    ("c4", C4 + OUT_TL, 4), ("c4r", C4_R + OUT_BR, 4),
    ("c5", C5 + OUT_TL, 5), ("c5r", C5_R + OUT_BR, 5),
    ("c6", C6 + OUT_TL, 6), ("c6r", C6_R + OUT_BR, 6),
    ("c7", C7 + OUT_TL, 7), ("c8", C8 + OUT_TL, 8), ("c9", C9 + OUT_TL, 9),
    ("c10", C10 + OUT_TL, 10), ("c10t", C10_TOP, 10),
    ("c11", C11 + OUT_TL, 11), ("c12", C12 + OUT_TL, 12), ("c13", C13, 13), ("c14", C14, 14),
    ("c1", C1_BLOB, 0),
]
LINES = [("c2", C2), ("c2r", C2_R), ("c3", C3), ("c3r", C3_R), ("c4", C4), ("c4r", C4_R), ("c5", C5), ("c5r", C5_R),
         ("c6", C6), ("c6r", C6_R), ("c7", C7), ("c8", C8), ("c9", C9), ("c10", C10), ("c10t", C10_TOP),
         ("c11", C11), ("c12", C12), ("c13", C13), ("c14", C14)]

fill_rows = []
for rid, pts, band in REGIONS:
    for i, (px, py) in enumerate(pts):
        fill_rows.append({"id": f"{band:02d}{rid}", "i": i, "x": px, "y": py, "fill": BAND_COLORS[band]})
line_rows = [{"id": rid, "i": i, "x": px, "y": py} for rid, pts in LINES for i, (px, py) in enumerate(pts)]

fired = FIRED_LOWER + FIRED_MIDDLE + FIRED_UPPER + FIRED_LATE
nodes = [(px, py) for xs, ys in zip(RX, RY) for px, py in zip(xs, ys)]
taken = set()
for fx, fy, _, _ in fired:
    taken.add(min(range(len(nodes)), key=lambda j: (nodes[j][0] - fx) ** 2 + (nodes[j][1] - fy) ** 2))
quiet = pd.DataFrame([{"x": n[0], "y": n[1]} for j, n in enumerate(nodes) if j not in taken])
hit = pd.DataFrame([{"x": a, "y": b, "t": c, "s": d * d} for a, b, c, d in fired])

n_bar = len(BAR_COLORS)
t_stops = [i * T_MAX / (n_bar - 1) for i in range(n_bar)]
bar_x0, bar_x1 = -1.911, 1.832
bar = pd.DataFrame([{"x": bar_x0 + (bar_x1 - bar_x0) * i / n_bar,
                     "x2": min(bar_x1, bar_x0 + (bar_x1 - bar_x0) * (i + 1) / n_bar + 0.004),
                     "y": -2.14, "y2": -2.425, "t": t_stops[i]} for i in range(n_bar)])
bands = pd.DataFrame([{"lo": LEVELS[i], "hi": LEVELS[i + 1], "fill": BAND_COLORS[i]} for i in range(16)])

# ---------- scales ----------
XS = alt.Scale(domain=[-2, 2], nice=False, zero=False)
YS = alt.Scale(domain=[-2.5, 2.5], nice=False, zero=False)
SERIF = "Liberation Serif"
AX = alt.Axis(values=[-2, -1, 0, 1, 2], ticks=False, domain=False, grid=False, title=None, labelFlush=False,
              labelFontSize=60, labelFont=SERIF, labelPadding=24, labelColor="black")
AY = alt.Axis(values=[-2, -1, 0, 1, 2], ticks=False, domain=False, grid=False, title=None, labelFlush=False,
              labelFontSize=60, labelFont=SERIF, labelPadding=38, labelColor="black")
NX = alt.X("x:Q", scale=XS, axis=AX, title=None)
NY = alt.Y("y:Q", scale=YS, axis=AY, title=None)
INK = "#1b0c66"

# ---------- guide lines behind the figure ----------
GUIDE = "#f9c49c"
one = alt.Data(values=[{"a": 1}])
guides = []
for gx in [837, 981]:
    guides.append(alt.Chart(one).mark_rule(color=GUIDE, strokeWidth=4, clip=False).encode(
        x=alt.value(gx), y=alt.value(-25), y2=alt.value(2685)))
for gy in [551, 695, 1655, 1800]:
    guides.append(alt.Chart(one).mark_rule(color=GUIDE, strokeWidth=4, clip=False).encode(
        y=alt.value(gy), x=alt.value(-247), x2=alt.value(2060)))

frame_df = pd.DataFrame([{"x": -2, "x2": 2, "y": -2.5, "y2": 2.5}])
base = alt.Chart(frame_df).mark_rect(color=BAND_COLORS[1]).encode(x=NX, x2="x2:Q", y=NY, y2="y2:Q")
fills = alt.Chart(pd.DataFrame(fill_rows)).mark_line(interpolate="catmull-rom", clip=True, strokeWidth=0).encode(
    x=NX, y=NY, order="i:Q", detail="id:N", fill=alt.Fill("fill:N", scale=None))
lines = alt.Chart(pd.DataFrame(line_rows)).mark_line(interpolate="catmull-rom", clip=True, strokeWidth=7.5, color=INK).encode(
    x=NX, y=NY, order="i:Q", detail="id:N")
frame = alt.Chart(frame_df).mark_rect(fillOpacity=0, stroke=INK, strokeWidth=9).encode(
    x=NX, x2="x2:Q", y=NY, y2="y2:Q")
black = alt.Chart(quiet).mark_circle(color="#000000", opacity=0.92, size=625).encode(x=NX, y=NY)
colored = alt.Chart(hit).mark_circle(opacity=0.88).encode(
    x=NX, y=NY, size=alt.Size("s:Q", scale=None),
    color=alt.Color("t:Q", scale=alt.Scale(domain=t_stops, range=DOT_COLORS), legend=None))
inset = alt.Chart(bar).mark_rect().encode(
    x=NX, x2="x2:Q", y=NY, y2="y2:Q",
    color=alt.Color("t:Q", scale=alt.Scale(domain=t_stops, range=BAR_COLORS), legend=None))

def label(txt, x, y, size, style="normal", color="black", angle=0):
    return alt.Chart(one).mark_text(text=txt, align="left", baseline="alphabetic", font=SERIF, fontSize=size,
                                    fontStyle=style, color=color, angle=angle, clip=False).encode(
        x=alt.value(x), y=alt.value(y))

texts = [
    label("0", 32, 2292, 132, color="white"),
    label("μs", 114, 2292, 135, "italic", "white"),
    label("11.6", 1310, 2292, 128, color="white"),
    label("μs", 1545, 2292, 135, "italic", "white"),
    label("x", 759, 2669, 70, "italic"),
    label("[km]", 809, 2669, 70),
    label("y", -173, 1358, 72, "italic", angle=270),
    label("[km]", -173, 1308, 72, angle=270),
]

main = alt.layer(*guides, base, fills, lines, black, colored, frame, inset, *texts).resolve_scale(color="independent")

cbar = alt.Chart(bands).mark_rect().encode(
    x=alt.value(1767), x2=alt.value(1850),
    y=alt.Y("lo:Q", scale=alt.Scale(domain=[1.492, 4.393], nice=False, zero=False),
            axis=alt.Axis(orient="right", offset=139, values=[1.5, 2.0, 2.5, 3.0, 3.5, 4.0], format=".1f",
                          grid=False, domainColor="black", domainWidth=4, tickColor="black", tickWidth=4, tickSize=30,
                          labelFontSize=60, labelFont=SERIF, labelPadding=12, labelColor="black",
                          title="Altitude [km]", titleFont=SERIF, titleFontSize=72, titleFontWeight="normal",
                          titleColor="black", titleAngle=270, titlePadding=93)),
    y2="hi:Q",
    fill=alt.Fill("fill:N", scale=None),
)

chart = alt.layer(main, cbar).resolve_scale(y="independent").properties(
    width=1712, height=2525,
    padding={"left": 247, "top": 25, "right": 348, "bottom": 160},
    autosize=alt.AutoSizeParams(type="none", contains="content"),
    background="white",
).configure_view(stroke=None)

chart.save("out.html", embed_options={"renderer": "svg", "actions": False})
